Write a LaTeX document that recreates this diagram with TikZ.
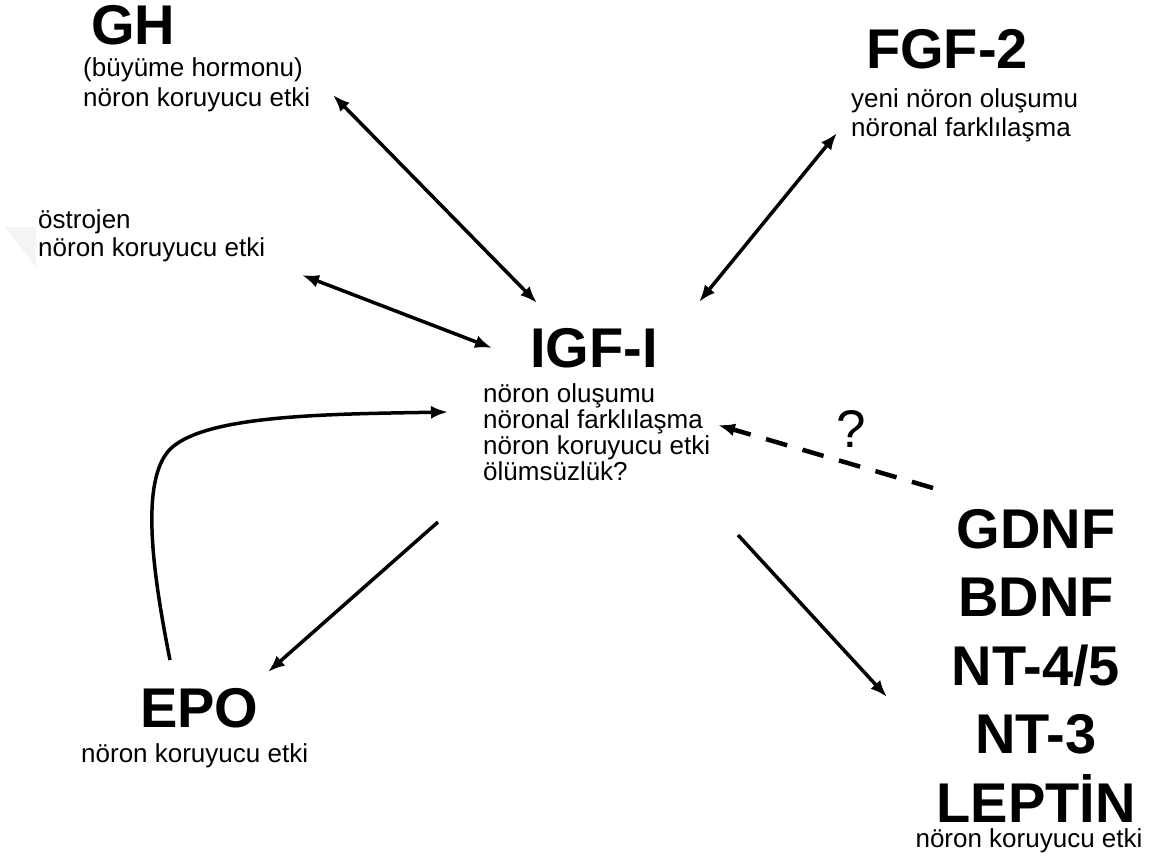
\documentclass[tikz,border=0pt]{standalone}
\usepackage{fontspec}
\setmainfont{Liberation Sans}
\usetikzlibrary{arrows.meta}

\begin{document}
\begin{tikzpicture}[x=1pt, y=-1pt,
    >={Latex[length=17pt,width=13pt]},
    link/.style={line width=3.5pt},
    maybe/.style={line width=4.5pt, dash pattern=on 22pt off 16pt},
    big/.style={inner sep=0pt, anchor=base west, font=\fontsize{56}{60}\selectfont\bfseries},
    txt/.style={inner sep=0pt, anchor=base west, font=\fontsize{26}{28}\selectfont}
    ]
    \useasboundingbox (0,0) rectangle (1161,859);
    \fill[gray!9] (5,227) -- (36,227) -- (36,267) -- cycle;

    % growth hormone
    \node[big] (gh) at (91,45) {GH};
    \node[txt] (ghname) at (83,77) {(büyüme hormonu)};
    \node[txt] (ghfx) at (83,106) {nöron koruyucu etki};

    % estrogen
    \node[txt] (est) at (38,228) {östrojen};
    \node[txt] (estfx) at (38,256) {nöron koruyucu etki};

    % FGF-2
    \node[big] (fgf) at (866,68) {FGF-2};
    \node[txt] (fgf1) at (851,107) {yeni nöron oluşumu};
    \node[txt] (fgf2) at (851,136) {nöronal farklılaşma};

    % IGF-I in the middle
    \node[big] (igf) at (530,367) {IGF-I};
    \foreach \t [count=\i from 0] in {nöron oluşumu, nöronal farklılaşma, nöron koruyucu etki, ölümsüzlük?}
        \node[txt] (igf\i) at (483,402+26*\i) {\t};

    % EPO
    \node[big] (epo) at (140,727) {EPO};
    \node[txt] (epofx) at (81,762) {nöron koruyucu etki};

    % neurotrophins
    \foreach \t [count=\i from 0] in {GDNF, BDNF, NT-4/5, NT-3, LEPTİN}
        \node[big, anchor=base] (nt\i) at (1036,548+68.5*\i) {\t};
    \node[txt, anchor=base] (ntfx) at (1029,847) {nöron koruyucu etki};
    \node[inner sep=0pt, anchor=base west, font=\fontsize{53}{56}\selectfont] (q) at (836,447) {?};

    % arrow ends
    \coordinate (ghP) at (333,95);
    \coordinate (igfGH) at (537,303);
    \coordinate (estP) at (302,275);
    \coordinate (igfEst) at (492,348);
    \coordinate (fgfP) at (837,133);
    \coordinate (igfFgf) at (699,302);
    \coordinate (igfOut) at (438,522);
    \coordinate (epoIn) at (268,672);
    \coordinate (epoOut) at (170,660);
    \coordinate (igfEpo) at (448,412);
    \coordinate (igfNt) at (738,535);
    \coordinate (ntIn) at (887,697);
    \coordinate (ntOut) at (933,488);
    \coordinate (igfNtQ) at (718,425);

    \draw[link,<->] (ghP) -- (igfGH);
    \draw[link,<->] (estP) -- (igfEst);
    \draw[link,<->] (fgfP) -- (igfFgf);
    \draw[link,->] (igfOut) -- (epoIn);
    \draw[link,->] (epoOut) .. controls (150,560) and (140,470) .. (175,445)
        .. controls (215,415) and (330,414) .. (igfEpo);
    \draw[link,->] (igfNt) -- (ntIn);
    \draw[maybe,->] (ntOut) -- (igfNtQ);
\end{tikzpicture}
\end{document}
